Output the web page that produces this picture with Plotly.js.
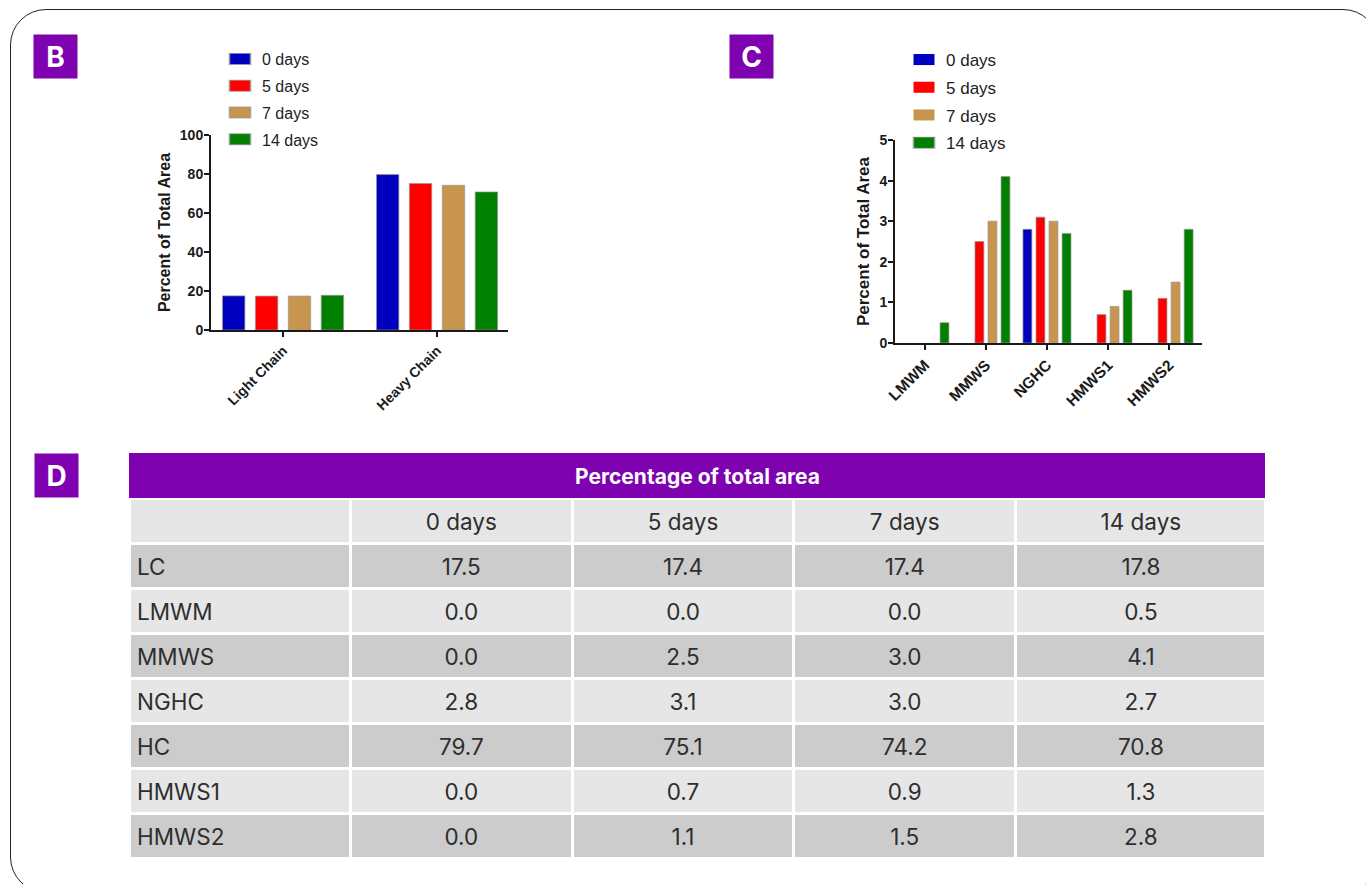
<!DOCTYPE html>
<html>
<head>
<meta charset="utf-8">
<script src="https://cdn.plot.ly/plotly-3.0.1.min.js"></script>
<style>
  html, body { margin: 0; padding: 0; background: #fff; overflow: hidden; }
  #wrap { position: relative; width: 1366px; height: 884px; }
  #chart { position: absolute; left: 0; top: 0; width: 1366px; height: 884px; }
  #frame {
    position: absolute; left: 10px; top: 9px; width: 1369px; height: 884px;
    border: 1.5px solid #222; border-radius: 36px; box-sizing: border-box;
    pointer-events: none;
  }
  /* wide, flat legend swatches (kept centred on the symbol slot at x=22) */
  #chart .legendpoints path { translate: -16.5px 0; scale: 1.75 0.92; }
  /* vertically centre the table text inside its 45px rows */
  #chart .table .cell-text { translate: 0 7px; }
</style>
</head>
<body>
<div id="wrap"><div id="chart"></div><div id="frame"></div></div>
<script>
// Percentage of total area per fraction, by storage time
const days = ['0 days', '5 days', '7 days', '14 days'];
const fractions = ['LC', 'LMWM', 'MMWS', 'NGHC', 'HC', 'HMWS1', 'HMWS2'];
const day0  = [17.5, 0.0, 0.0, 2.8, 79.7, 0.0, 0.0];
const day5  = [17.4, 0.0, 2.5, 3.1, 75.1, 0.7, 1.1];
const day7  = [17.4, 0.0, 3.0, 3.0, 74.2, 0.9, 1.5];
const day14 = [17.8, 0.5, 4.1, 2.7, 70.8, 1.3, 2.8];

// Panel B: main chains; panel C: minor species
const chainLabels = ['Light Chain', 'Heavy Chain'];
const chainKeys = ['LC', 'HC'];
const speciesLabels = ['LMWM', 'MMWS', 'NGHC', 'HMWS1', 'HMWS2'];
const speciesKeys = ['LMWM', 'MMWS', 'NGHC', 'HMWS1', 'HMWS2'];

const tableTitle = 'Percentage of total area';

const series = [day0, day5, day7, day14];
const colors = ['#0000bf', '#ff0000', '#c8954f', '#007f00'];

const W = 1366, H = 884;
const px = v => v / W;
const py = v => 1 - v / H;

const ARIAL = 'Liberation Sans, Arial, sans-serif';
const TABLE_FONT = 'Inter, Lato, sans-serif';
const PURPLE = '#7e02b0';

const pick = (arr, keys) => keys.map(k => arr[fractions.indexOf(k)]);
// empty bars get no outline, so nothing shows on the baseline
const outline = vals => ({ color: 'rgba(150,150,150,0.7)', width: vals.map(v => (v > 0 ? 1 : 0)) });

const traces = [];
series.forEach((vals, i) => {
  const y = pick(vals, chainKeys);
  traces.push({
    type: 'bar', x: chainLabels, y: y, name: days[i],
    xaxis: 'x', yaxis: 'y', legend: 'legend', legendgroup: 'b' + i,
    marker: { color: colors[i], line: outline(y) },
    hoverinfo: 'x+y+name'
  });
});
series.forEach((vals, i) => {
  const y = pick(vals, speciesKeys);
  traces.push({
    type: 'bar', x: speciesLabels, y: y, name: days[i],
    xaxis: 'x2', yaxis: 'y2', legend: 'legend2', legendgroup: 'c' + i,
    marker: { color: colors[i], line: outline(y) },
    hoverinfo: 'x+y+name'
  });
});

// Table D
const rowFill = ['#cccccc', '#e6e6e6', '#cccccc', '#e6e6e6', '#cccccc', '#e6e6e6', '#cccccc'];
const cellFont = { family: TABLE_FONT, size: 22.5, color: '#2e2e2e' };
traces.push({
  type: 'table',
  domain: { x: [px(129), px(1266)], y: [py(862), py(498)] },
  columnwidth: [221, 222, 221, 222, 250],
  header: {
    values: [''].concat(days),
    fill: { color: '#e6e6e6' },
    line: { color: '#ffffff', width: 3 },
    align: ['left', 'center', 'center', 'center', 'center'],
    height: 45,
    font: cellFont
  },
  cells: {
    values: [fractions, day0, day5, day7, day14],
    format: ['', '.1f', '.1f', '.1f', '.1f'],
    fill: { color: [rowFill, rowFill, rowFill, rowFill, rowFill] },
    line: { color: '#ffffff', width: 3 },
    align: ['left', 'center', 'center', 'center', 'center'],
    height: 45,
    font: cellFont
  }
});

const baseY = {
  showline: true, linecolor: '#1a1a1a', linewidth: 2,
  ticks: 'outside', ticklen: 5, tickwidth: 2, tickcolor: '#1a1a1a',
  showgrid: false, zeroline: false, fixedrange: true, ticklabelstandoff: -2,
  tickfont: { family: ARIAL, size: 14, color: '#1a1a1a', weight: 'bold' }
};
const baseX = {
  type: 'category', showline: true, linecolor: '#1a1a1a', linewidth: 2,
  ticks: 'outside', ticklen: 5, tickwidth: 2, tickcolor: '#1a1a1a',
  showgrid: false, zeroline: false, fixedrange: true, tickangle: -45
};
const yTitle = (t, s, gap) => ({ text: t, font: { family: ARIAL, size: s, color: '#1a1a1a', weight: 'bold' }, standoff: gap });
const xFont = s => ({ family: ARIAL, size: s, color: '#1a1a1a', weight: 'bold' });

const panelLabel = (txt, cx, cy) => ({
  text: '<b>' + txt + '</b>', xref: 'paper', yref: 'paper', x: px(cx), y: py(cy),
  xanchor: 'center', yanchor: 'middle', showarrow: false,
  width: 41, height: 41, borderpad: 1, bgcolor: PURPLE,
  font: { family: TABLE_FONT, size: 28, color: '#ffffff' }
});

const legendBase = {
  xanchor: 'left', yanchor: 'top', bgcolor: 'rgba(0,0,0,0)', borderwidth: 0,
  traceorder: 'grouped', itemclick: false, itemdoubleclick: false, itemwidth: 34
};

const layout = {
  width: W, height: H,
  margin: { l: 0, r: 0, t: 0, b: 0 },
  paper_bgcolor: '#ffffff', plot_bgcolor: 'rgba(0,0,0,0)',
  barmode: 'group', bargap: 0.145, bargroupgap: 0.32,
  showlegend: true,
  xaxis: Object.assign({}, baseX, { domain: [px(211), px(508)], range: [-0.468, 1.461], anchor: 'y', tickfont: xFont(14) }),
  yaxis: Object.assign({}, baseY, { domain: [py(330), py(135)], range: [0, 100], dtick: 20, anchor: 'x', title: yTitle('Percent of Total Area', 16, 5) }),
  xaxis2: Object.assign({}, baseX, { domain: [px(895), px(1202)], range: [-0.49, 4.54], anchor: 'y2', tickfont: xFont(15.5) }),
  yaxis2: Object.assign({}, baseY, { domain: [py(343), py(140)], range: [0, 5], dtick: 1, anchor: 'x2', title: yTitle('Percent of Total Area', 17, 5) }),
  legend: Object.assign({}, legendBase, {
    x: px(218), y: py(42), tracegroupgap: 3,
    font: { family: ARIAL, size: 16, color: '#222' }
  }),
  legend2: Object.assign({}, legendBase, {
    x: px(902), y: py(42), tracegroupgap: 2.6,
    font: { family: ARIAL, size: 17, color: '#222' }
  }),
  shapes: [
    { type: 'rect', xref: 'paper', yref: 'paper', x0: px(129), x1: px(1265), y0: py(498), y1: py(453),
      fillcolor: PURPLE, line: { width: 0 }, layer: 'above' }
  ],
  annotations: [
    panelLabel('B', 55.5, 56.5),
    panelLabel('C', 751.5, 56.5),
    panelLabel('D', 56.5, 475.5),
    { text: '<b>' + tableTitle + '</b>', xref: 'paper', yref: 'paper', x: px(697), y: py(476),
      xanchor: 'center', yanchor: 'middle', showarrow: false,
      font: { family: TABLE_FONT, size: 21, color: '#ffffff' } }
  ]
};

Plotly.newPlot('chart', traces, layout, { displayModeBar: false, responsive: false });
</script>
</body>
</html>
